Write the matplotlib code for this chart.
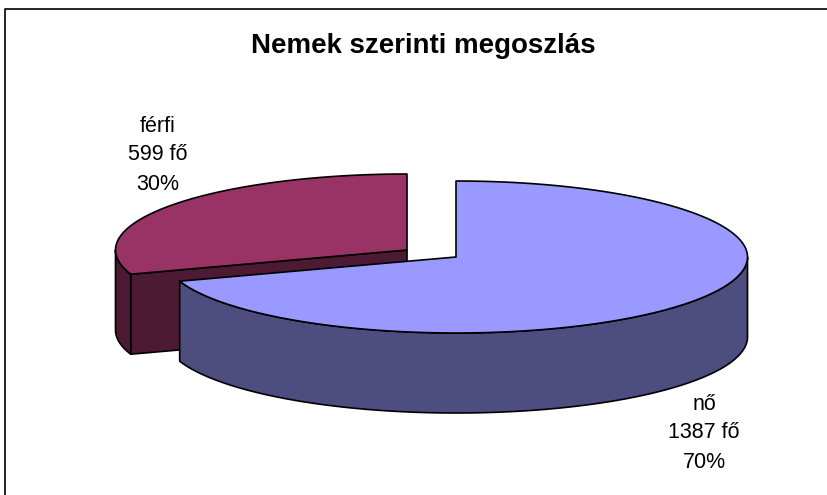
import numpy as np
import matplotlib
matplotlib.use('Agg')
import matplotlib.pyplot as plt
from matplotlib.patches import Polygon

title = 'Nemek szerinti megoszlás'
names = ['nő', 'férfi']
counts = [1387, 599]
percents = ['70%', '30%']

plt.rcParams['font.family'] = ['Liberation Sans', 'DejaVu Sans']

fig = plt.figure(figsize=(8.28, 4.95), dpi=100)
ax = fig.add_axes([0, 0, 1, 1])
ax.set_xlim(0, 828)
ax.set_ylim(495, 0)
ax.axis('off')

# pie geometry in pixels
a, b, depth = 291.5, 76, 80
centers = [(456, 257), (407, 250)]
top_colors = ['#9999FF', '#993366']
side_colors = ['#4D4D80', '#4D1A33']


def rim(c, t0, t1):
    t = np.radians(np.linspace(t0, t1, 200))
    return np.column_stack([c[0] + a * np.cos(t), c[1] - b * np.sin(t)])


def add(pts, color, z):
    ax.add_patch(Polygon(pts, closed=True, facecolor=color, edgecolor='black',
                         linewidth=1.2, joinstyle='round', zorder=z))


shares = np.array(counts) / sum(counts) * 360
end = 90 - shares[0]  # nő runs clockwise from 12 o'clock, férfi takes the rest

# férfi first, nő overlaps it
c = centers[1]
cut_pt = rim(c, end + 360, 180)[0]
add([c, cut_pt, cut_pt + [0, depth], np.array(c) + [0, depth]], side_colors[1], 1)
wall = rim(c, 180, end + 360)
add(np.vstack([wall, wall[::-1] + [0, depth]]), side_colors[1], 1)
add(np.vstack([[c], rim(c, end + 360, 90)]), top_colors[1], 2)

c = centers[0]
wall = rim(c, end, 0)
add(np.vstack([wall, wall[::-1] + [0, depth]]), side_colors[0], 3)
add(np.vstack([[c], rim(c, end, 90)]), top_colors[0], 4)

ax.text(423, 46, title, fontsize=19.9, fontweight='bold', ha='center', va='center')
ax.text(158, 155, f'{names[1]}\n{counts[1]} fő\n{percents[1]}', fontsize=15.5,
        ha='center', va='center', linespacing=1.5)
ax.text(704, 433, f'{names[0]}\n{counts[0]} fő\n{percents[0]}', fontsize=15.5,
        ha='center', va='center', linespacing=1.5)

# chart frame, cropped at the right and bottom
ax.plot([5.5, 5.5, 828], [495, 8.5, 8.5], color='black', lw=1.2, clip_on=False, zorder=5)

fig.savefig('out.png', dpi=100)
